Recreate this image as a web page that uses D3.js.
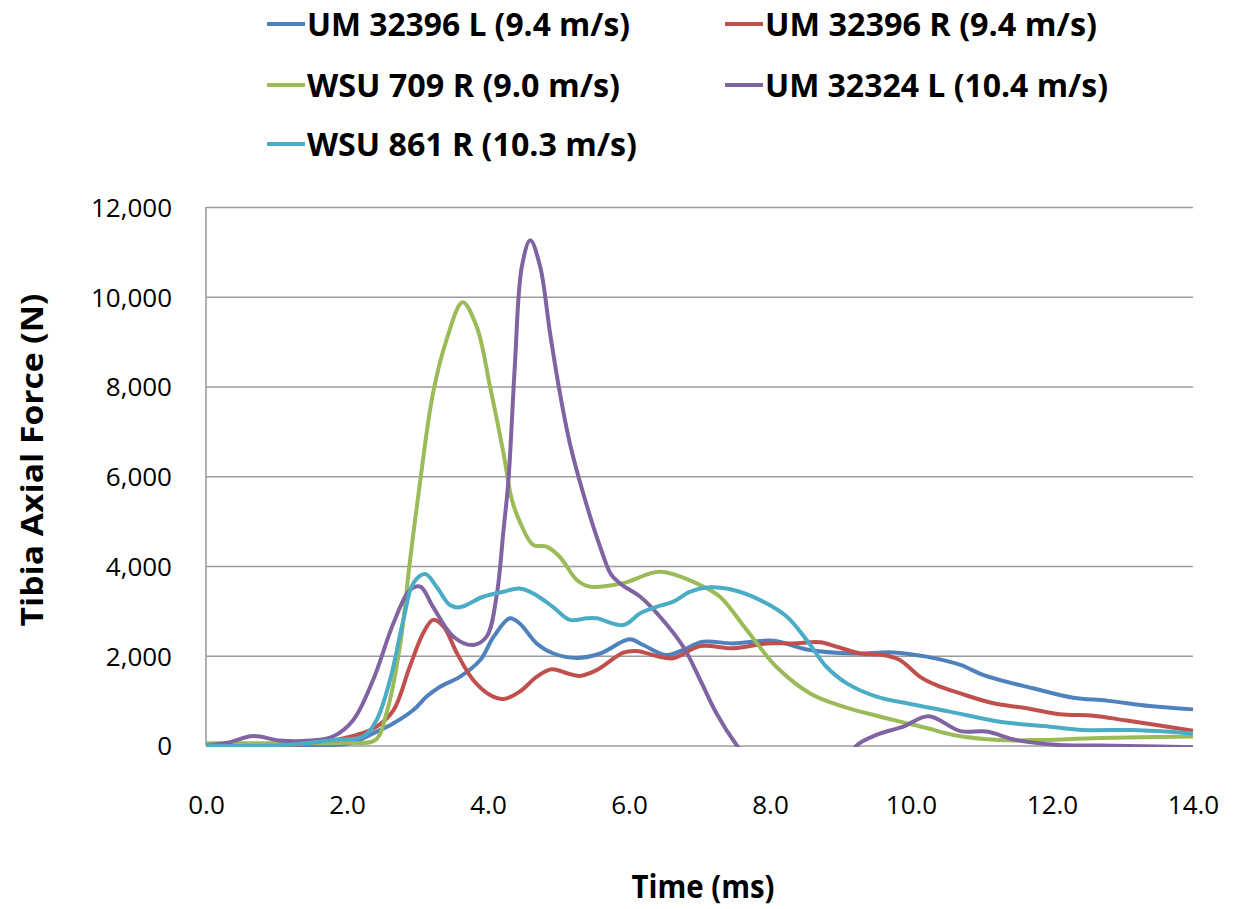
<!DOCTYPE html>
<html>
<head>
<meta charset="UTF-8"/>
<script src="https://d3js.org/d3.v7.min.js"></script>
<title>Tibia Axial Force</title>
<style>
body{ margin:0; background:#fff; }
svg{ background:#fff; font-family:"Open Sans", sans-serif; }
.grid line{ stroke:#9c9c9c; stroke-width:1.6px; }
.grid path{ display:none; }
.tick text{ fill:#000; font-size:26px; font-family:"Open Sans", sans-serif; }
.lbl{ font-weight:bold; fill:#000; font-family:"Open Sans", sans-serif; }
</style>
</head>
<body>
<svg id="chart" width="1234" height="909"></svg>
<script>
'use strict';
// series: [time (ms), force (N)]
var umL = [[0,0],[0.5,0],[1.0,0],[1.5,10],[2.04,50],[2.37,270],[2.66,495],[2.94,790],[3.13,1090],[3.32,1310],[3.6,1530],[3.89,1905],[4.08,2425],[4.31,2835],[4.45,2720],[4.69,2275],[4.93,2050],[5.26,1950],[5.59,2050],[6.01,2365],[6.2,2240],[6.53,2015],[6.77,2130],[7.05,2310],[7.48,2275],[8.05,2335],[8.52,2140],[9.18,2050],[9.75,2075],[10.22,1980],[10.7,1795],[11.03,1570],[11.73,1275],[12.3,1065],[12.78,1000],[13.39,880],[14,805]];
var umR = [[0,0],[0.5,0],[1.0,0],[1.5,40],[1.8,110],[2.14,235],[2.42,420],[2.66,790],[2.89,1755],[3.08,2500],[3.22,2800],[3.37,2650],[3.56,2055],[3.79,1460],[4.03,1125],[4.22,1035],[4.45,1200],[4.69,1530],[4.9,1700],[5.12,1610],[5.3,1550],[5.54,1680],[5.92,2070],[6.11,2105],[6.39,1995],[6.63,1945],[7.01,2215],[7.48,2165],[7.95,2275],[8.33,2275],[8.71,2300],[8.95,2200],[9.28,2050],[9.61,2015],[9.84,1905],[10.13,1530],[10.36,1345],[10.7,1160],[11.17,940],[11.64,830],[12.11,695],[12.59,665],[13.06,555],[14,330]];
var wsu709 = [[0,50],[1.0,50],[2.0,60],[2.4,120],[2.56,720],[2.75,2200],[2.89,4070],[3.04,5915],[3.22,7850],[3.41,9030],[3.64,9875],[3.84,9330],[4.03,7990],[4.22,6510],[4.34,5470],[4.46,4955],[4.64,4470],[4.83,4430],[5.02,4200],[5.26,3690],[5.45,3540],[5.92,3620],[6.44,3870],[7.01,3575],[7.29,3315],[7.67,2575],[8.09,1755],[8.57,1160],[9.04,865],[9.75,570],[10.22,390],[10.6,235],[11.26,120],[11.73,120],[12.68,165],[14,200]];
var um324 = [[0,0],[0.3,60],[0.67,210],[1.05,110],[1.48,110],[1.8,200],[2.09,570],[2.37,1460],[2.66,2730],[2.89,3460],[3.04,3540],[3.22,3090],[3.51,2425],[3.79,2240],[3.98,2425],[4.12,3315],[4.22,4800],[4.29,5915],[4.38,8440],[4.48,10670],[4.6,11260],[4.74,10670],[4.88,9190],[5.02,7850],[5.16,6740],[5.35,5620],[5.59,4430],[5.75,3800],[5.9,3580],[6.16,3315],[6.44,2870],[6.77,2200],[7.01,1460],[7.24,720],[7.53,0],[8.0,-900],[8.5,-1300],[9.0,-600],[9.23,0],[9.51,235],[9.89,420],[10.25,650],[10.7,320],[11.07,310],[11.5,120],[12.11,10],[12.68,0],[13.5,-20],[14,-40]];
var wsu861 = [[0,0],[1.0,0],[1.8,120],[2.23,200],[2.42,570],[2.61,1460],[2.8,2800],[2.94,3615],[3.11,3820],[3.27,3540],[3.46,3130],[3.6,3080],[3.93,3315],[4.2,3420],[4.45,3500],[4.64,3390],[4.92,3090],[5.16,2800],[5.4,2835],[5.54,2835],[5.92,2685],[6.16,2945],[6.39,3090],[6.63,3205],[6.87,3430],[7.15,3525],[7.48,3465],[7.86,3240],[8.24,2870],[8.52,2350],[8.8,1755],[9.09,1385],[9.51,1090],[9.99,925],[10.55,755],[11.26,530],[11.97,420],[12.44,345],[13.15,345],[14,270]];

var names = ['UM 32396 L (9.4 m/s)','UM 32396 R (9.4 m/s)','WSU 709 R (9.0 m/s)','UM 32324 L (10.4 m/s)','WSU 861 R (10.3 m/s)'];
var colors = ['#4f81bd','#c0504d','#9bbb59','#8064a2','#4bacc6'];
var series = [umL, umR, wsu709, um324, wsu861];
var xTicks = [0,2,4,6,8,10,12,14];
var yTicks = [0,2000,4000,6000,8000,10000,12000];

var svg = d3.select('#chart');
var sx = d3.scaleLinear().domain([0,14]).range([206,1193]);
var sy = d3.scaleLinear().domain([0,12000]).range([745.5,207]);

// horizontal grid + y labels
var yAxis = d3.axisLeft(sy).tickValues(yTicks).tickFormat(d3.format(','))
    .tickSize(-(1193-206)).tickPadding(34);
var gy = svg.append('g').attr('class','grid').attr('transform','translate(206,0)').call(yAxis);
gy.selectAll('.tick text').attr('dy','0.36em');

// left axis line
svg.append('line').attr('x1',206).attr('x2',206).attr('y1',sy(12000)).attr('y2',sy(0))
    .attr('stroke','#9c9c9c').attr('stroke-width',1.6);

// x labels
var xAxis = d3.axisBottom(sx).tickValues(xTicks).tickFormat(d3.format('.1f'))
    .tickSize(0).tickPadding(50);
svg.append('g').attr('class','grid').attr('transform','translate(0,745.5)').call(xAxis);

svg.append('clipPath').attr('id','clip').append('rect')
    .attr('x',206).attr('y',150).attr('width',1193-206+4).attr('height',745.5-150+1.5);

var line = d3.line()
    .x(function(d){ return sx(d[0]); })
    .y(function(d){ return sy(d[1]); })
    .curve(d3.curveCatmullRom.alpha(0.5));

svg.append('g').attr('clip-path','url(#clip)')
    .selectAll('path').data(series).enter().append('path')
    .attr('d', line)
    .attr('fill','none')
    .attr('stroke', function(d,i){ return colors[i]; })
    .attr('stroke-width',4)
    .attr('stroke-linejoin','round');

// legend: x, y, text width
var legPos = [[267,24,323],[725,24,332],[267,85,313],[725,85,343],[267,144,330]];
var leg = svg.append('g');
names.forEach(function(n,i){
    var p = legPos[i];
    leg.append('line').attr('x1',p[0]).attr('x2',p[0]+38).attr('y1',p[1]).attr('y2',p[1])
        .attr('stroke',colors[i]).attr('stroke-width',4);
    leg.append('text').attr('class','lbl').attr('x',p[0]+40).attr('y',p[1]+12)
        .style('font-size','33px').attr('textLength',p[2]).attr('lengthAdjust','spacingAndGlyphs')
        .text(n);
});

// axis titles
svg.append('text').attr('class','lbl').attr('x',703).attr('y',898)
    .attr('text-anchor','middle').style('font-size','32px')
    .attr('textLength',143).attr('lengthAdjust','spacingAndGlyphs').text('Time (ms)');
svg.append('text').attr('class','lbl')
    .attr('transform','translate(43,460) rotate(-90)')
    .attr('text-anchor','middle').style('font-size','31px')
    .attr('textLength',333).attr('lengthAdjust','spacingAndGlyphs').text('Tibia Axial Force (N)');
</script>
</body>
</html>
